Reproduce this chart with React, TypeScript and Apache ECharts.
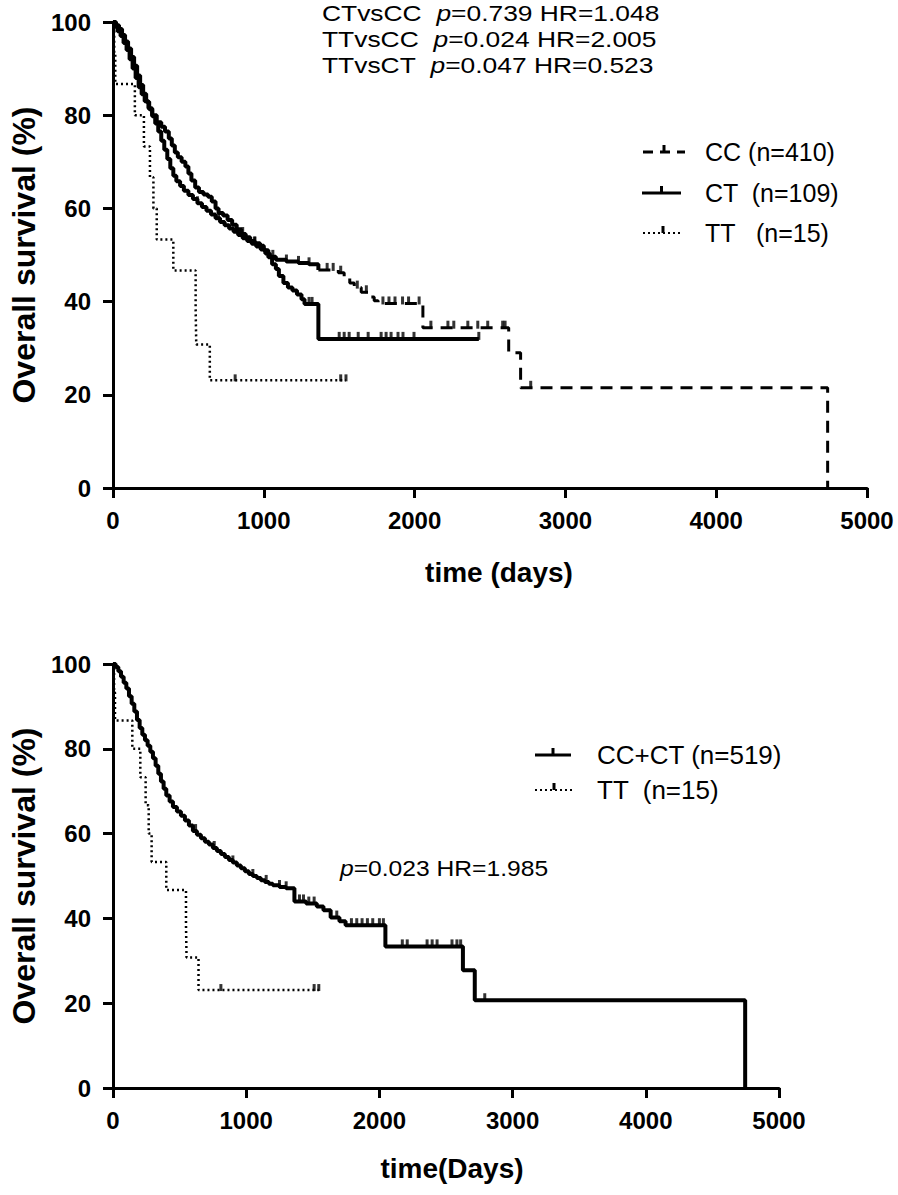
import React, { useEffect, useRef } from "react";
import * as echarts from "echarts";

const FONT = "'Liberation Sans', Arial, Helvetica, sans-serif";

// ---------- DATA (time in days, survival in %) ----------
const X_TICKS = [0, 1000, 2000, 3000, 4000, 5000];
const Y_TICKS = [0, 20, 40, 60, 80, 100];

const CC_CURVE: number[][] = [
  [0, 100], [20, 99.3], [40, 98.5], [60, 97.2], [80, 95.8], [100, 94.3], [120, 92.5], [140, 90.6],
  [160, 88.5], [180, 86.5], [200, 84.6], [220, 82.9], [240, 81.3], [260, 79.8], [280, 78.2], [300, 76.5],
  [320, 74.5], [340, 72.6], [360, 70.6], [380, 68.6], [400, 67], [420, 65.8], [445, 64.8], [470, 63.8],
  [500, 62.9], [530, 62], [560, 61.1], [590, 60.3], [620, 59.5], [650, 58.7], [680, 57.9], [710, 57.1],
  [740, 56.4], [770, 55.7], [800, 55], [830, 54.3], [860, 53.6], [890, 53], [920, 52.4], [950, 51.8],
  [980, 51.2], [1010, 50.3], [1040, 49.6], [1080, 49], [1150, 48.6], [1230, 48.3], [1300, 48],
  [1362, 46.8], [1494, 46.2], [1533, 45.2], [1570, 44], [1600, 43], [1646, 42], [1700, 41], [1732, 40.2],
  [1758, 39.6], [2055, 34.4], [2624, 29], [2703, 21.5], [4739, 0],
];
const CC_CENSOR = [560, 700, 820, 940, 1060, 1150, 1230, 1300, 1420, 1460, 1510, 1620, 1680, 1790, 1830, 1870,
  1920, 1960, 2030, 2108, 2221, 2260, 2353, 2419, 2485, 2584, 2600, 2770];

const CT_CURVE: number[][] = [
  [0, 100], [15, 99], [30, 98], [50, 97], [70, 95.5], [90, 94], [110, 92], [130, 90], [150, 88], [170, 86],
  [190, 84.5], [210, 83], [235, 81.5], [260, 80], [290, 78.5], [320, 77.5], [345, 76.5], [370, 75],
  [390, 73.5], [410, 72], [430, 71], [455, 70], [480, 69], [500, 67.5], [520, 66], [545, 64.5], [570, 63.5],
  [600, 63], [630, 62.5], [655, 61.5], [680, 60], [700, 59], [730, 58.5], [760, 57.5], [790, 56.5],
  [820, 55.5], [850, 54.5], [880, 53.8], [910, 53], [940, 52.5], [975, 52], [1000, 51], [1030, 49.5],
  [1055, 48], [1080, 47], [1100, 45.5], [1130, 44], [1160, 43], [1190, 42.4], [1220, 41.5], [1250, 40.5],
  [1270, 39.5], [1362, 32], [2426, 32],
];
const CT_CENSOR = [860, 940, 1300, 1320, 1500, 1533, 1566, 1626, 1692, 1778, 1811, 1844, 1890, 1923, 1996, 2426];

const TT_CURVE: number[][] = [
  [0, 100], [8, 93.3], [15, 86.7], [145, 80], [205, 73.3], [245, 66.7], [268, 60], [290, 53.3],
  [400, 46.7], [548, 38.5], [552, 30.8], [642, 23.1], [1545, 23.1],
];
const TT_CENSOR = [810, 1510, 1545];

const CCCT_CURVE: number[][] = [
  [0, 100], [20, 99.3], [40, 98.3], [60, 97], [80, 95.6], [100, 94.2], [120, 92.4], [140, 90.6],
  [160, 88.8], [180, 86.8], [200, 84.9], [220, 83.3], [240, 82], [260, 80.7], [280, 79.3], [300, 77.8],
  [320, 76], [340, 74.1], [360, 72.3], [380, 70.6], [400, 69], [425, 67.6], [450, 66.3], [480, 65.2],
  [510, 64.2], [540, 63.1], [570, 61.9], [600, 60.6], [630, 59.7], [660, 58.9], [690, 58.1], [720, 57.4],
  [750, 56.6], [780, 55.9], [810, 55.2], [840, 54.5], [870, 53.8], [900, 53.2], [930, 52.5], [960, 51.8],
  [990, 51.1], [1020, 50.5], [1050, 50], [1080, 49.5], [1110, 49], [1140, 48.6], [1170, 48.2], [1200, 47.8],
  [1250, 47.4], [1300, 47.1], [1362, 44], [1450, 43.5], [1530, 42.8], [1580, 41.9], [1634, 40.2],
  [1700, 39.3], [1746, 38.4], [2045, 33.4], [2627, 27.8], [2716, 20.7], [4746, 0],
];
const CCCT_CENSOR = [620, 760, 900, 1050, 1150, 1250, 1300, 1400, 1430, 1470, 1510, 1680, 1790, 1830, 1870,
  1910, 1950, 2000, 2030, 2172, 2209, 2358, 2396, 2433, 2545, 2582, 2610, 2791];

const TOP_STATS = [
  "CTvsCC  {i|p}=0.739 HR=1.048",
  "TTvsCC  {i|p}=0.024 HR=2.005",
  "TTvsCT  {i|p}=0.047 HR=0.523",
];
const BOTTOM_STATS = "{i|p}=0.023 HR=1.985";
const TOP_LEGEND = ["CC (n=410)", "CT  (n=109)", "TT   (n=15)"];
const BOTTOM_LEGEND = ["CC+CT (n=519)", "TT  (n=15)"];

// ---------- helpers ----------
function stepAt(curve: number[][], t: number) {
  let s = curve[0][1];
  for (const [x, y] of curve) {
    if (x <= t) s = y;
    else break;
  }
  return s;
}

const SOLID = { color: "#000", width: 4 };
const DOTTED = { color: "#000", width: 2.5, type: [2, 3] as any };

function stepLine(name: string, data: number[][], grid: number, lineStyle: any) {
  return {
    name,
    type: "line",
    xAxisIndex: grid,
    yAxisIndex: grid,
    step: "end",
    showSymbol: false,
    symbol: "none",
    data,
    lineStyle,
    silent: true,
  };
}
function censor(name: string, curve: number[][], times: number[], grid: number, size: number[]) {
  return {
    name,
    type: "scatter",
    xAxisIndex: grid,
    yAxisIndex: grid,
    symbol: "rect",
    symbolSize: size,
    symbolOffset: [0, -size[1] / 2 + 1],
    itemStyle: { color: "#000" },
    data: times.map((t) => [t, stepAt(curve, t)]),
    silent: true,
  };
}

function makeAxes(grid: number, xName: string, xNamePad: number) {
  const common = {
    gridIndex: grid,
    type: "value",
    axisLine: { show: true, lineStyle: { color: "#000", width: 3 } },
    axisTick: { show: true, length: 10, lineStyle: { color: "#000", width: 3 } },
    splitLine: { show: false },
    axisLabel: {
      color: "#000", fontSize: 24, fontWeight: "bold", fontFamily: FONT,
      formatter: (v: number) => String(v),
    },
  };
  return {
    x: {
      ...common,
      min: X_TICKS[0],
      max: X_TICKS[X_TICKS.length - 1],
      interval: X_TICKS[1] - X_TICKS[0],
      axisLabel: { ...common.axisLabel, margin: 20 },
      name: xName,
      nameLocation: "middle",
      nameGap: grid === 0 ? 70 : 66,
      nameTextStyle: {
        color: "#000", fontSize: 28, fontWeight: "bold", fontFamily: FONT,
        padding: [0, 0, 0, xNamePad],
      },
    },
    y: {
      ...common,
      min: Y_TICKS[0],
      max: Y_TICKS[Y_TICKS.length - 1],
      interval: Y_TICKS[1] - Y_TICKS[0],
      axisLabel: { ...common.axisLabel, margin: 22 },
      name: "Overall survival (%)",
      nameLocation: "middle",
      nameGap: 73,
      nameTextStyle: { color: "#000", fontSize: 32, fontWeight: "bold", fontFamily: FONT },
    },
  };
}

function legendItem(x1: number, x2: number, y: number, style: any, label: string, tx: number, fs: number) {
  const cx = (x1 + x2) / 2;
  return [
    { type: "line", shape: { x1, y1: y, x2, y2: y }, style: { stroke: "#000", ...style } },
    { type: "rect", shape: { x: cx - 1.5, y: y - 7, width: 3, height: 7 }, style: { fill: "#000" } },
    {
      type: "text", x: tx, y,
      style: { text: label, fontSize: fs, fontFamily: FONT, fill: "#000", textAlign: "left", textVerticalAlign: "middle" },
    },
  ];
}

export default function App() {
  const ref = useRef<HTMLDivElement>(null);
  useEffect(() => {
    if (!ref.current) return;
    const chart = echarts.init(ref.current, undefined, { renderer: "svg" });
    const a0 = makeAxes(0, "time (days)", 18);
    const a1 = makeAxes(1, "time(Days)", 12);

    const CC_EARLY = CC_CURVE.filter((p) => p[0] <= 1362);
    const CC_LATE = CC_CURVE.filter((p) => p[0] >= 1362);

    const richI = { i: { fontStyle: "italic", fontSize: 22, fontFamily: FONT, fill: "#000", color: "#000" } };

    const graphic: any[] = [];
    TOP_STATS.forEach((s, i) => {
      graphic.push({
        type: "text", x: 322, y: 13 + i * 26, scaleX: 1.2,
        style: { text: s, rich: richI, fontSize: 22, fontFamily: FONT, fill: "#000", textAlign: "left", textVerticalAlign: "middle" },
      });
    });
    graphic.push({
      type: "text", x: 340, y: 868, scaleX: 1.12,
      style: { text: BOTTOM_STATS, rich: richI, fontSize: 22, fontFamily: FONT, fill: "#000", textAlign: "left", textVerticalAlign: "middle" },
    });
    graphic.push(...legendItem(643, 685, 152, { lineWidth: 3, lineDash: [10, 7] }, TOP_LEGEND[0], 705, 25));
    graphic.push(...legendItem(642, 681, 193, { lineWidth: 3 }, TOP_LEGEND[1], 705, 25));
    graphic.push(...legendItem(643, 683, 233, { lineWidth: 2, lineDash: [2, 3] }, TOP_LEGEND[2], 705, 25));
    graphic.push(...legendItem(535, 571, 755, { lineWidth: 3 }, BOTTOM_LEGEND[0], 597, 26));
    graphic.push(...legendItem(535, 573, 790, { lineWidth: 2, lineDash: [2, 3] }, BOTTOM_LEGEND[1], 597, 26));

    chart.setOption({
      animation: false,
      backgroundColor: "#fff",
      textStyle: { fontFamily: FONT },
      grid: [
        { left: 110, top: 22, width: 757, height: 466, containLabel: false },
        { left: 111, top: 664, width: 668, height: 424, containLabel: false },
      ],
      xAxis: [a0.x, a1.x],
      yAxis: [a0.y, a1.y],
      series: [
        stepLine("CC", CC_EARLY, 0, SOLID),
        stepLine("CC late", CC_LATE, 0, { color: "#000", width: 3, type: [12, 8] }),
        stepLine("CT", CT_CURVE, 0, SOLID),
        stepLine("TT", TT_CURVE, 0, DOTTED),
        censor("CC censored", CC_CURVE, CC_CENSOR, 0, [3, 8]),
        censor("CT censored", CT_CURVE, CT_CENSOR, 0, [3, 8]),
        censor("TT censored", TT_CURVE, TT_CENSOR, 0, [3, 7]),
        stepLine("CC+CT", CCCT_CURVE, 1, SOLID),
        stepLine("TT ", TT_CURVE, 1, DOTTED),
        censor("CC+CT censored", CCCT_CURVE, CCCT_CENSOR, 1, [3, 8]),
        censor("TT censored ", TT_CURVE, TT_CENSOR, 1, [3, 7]),
      ],
      graphic,
    });
    return () => chart.dispose();
  }, []);
  return (
    <div
      ref={ref}
      style={{ position: "absolute", left: 0, top: 0, width: 898, height: 1195, background: "#fff" }}
    />
  );
}
